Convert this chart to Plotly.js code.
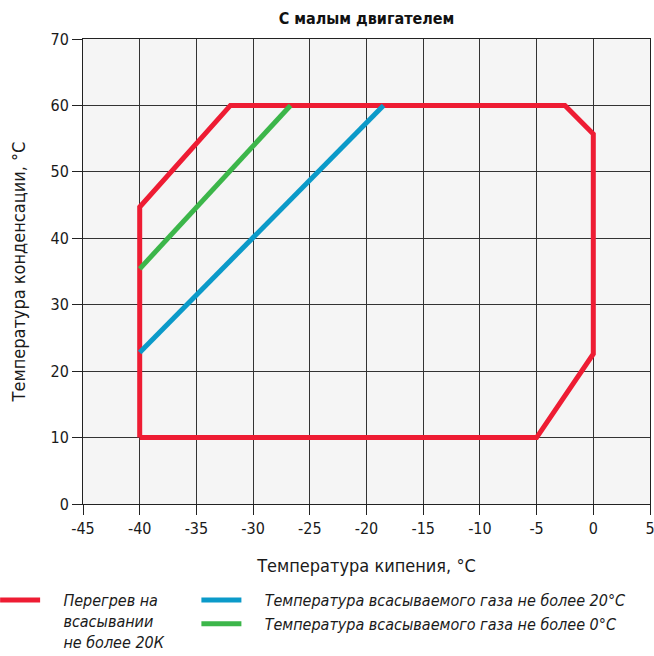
<!DOCTYPE html>
<html><head><meta charset="utf-8">
<script src="https://cdn.plot.ly/plotly-3.0.1.min.js"></script>
<style>body{margin:0;background:#fff}#c{width:654px;height:656px}</style>
</head><body><div id="c"></div>
<script>
const redX = [-40, -40, -32, -2.5, 0, 0, -5, -40];
const redY = [10, 44.7, 60, 60, 55.7, 22.6, 10, 10];
const blueX = [-40, -18.5];
const blueY = [22.8, 60];
const greenX = [-40, -26.7];
const greenY = [35.4, 60];
const xTicks = [-45, -40, -35, -30, -25, -20, -15, -10, -5, 0, 5];
const yTicks = [0, 10, 20, 30, 40, 50, 60, 70];
const PAD = '\u00a0\u00a0\u00a0\u00a0';
const names = [PAD + 'Перегрев на<br>' + PAD + 'всасывании<br>' + PAD + 'не более 20К',
  PAD + 'Температура всасываемого газа не более 20°С',
  PAD + 'Температура всасываемого газа не более 0°С'];
const FONT = '"Liberation Sans Narrow", "DejaVu Sans Condensed", "Open Sans", sans-serif';

const traces = [
  {x: redX, y: redY, mode: 'lines', name: names[0], line: {color: '#ee1c33', width: 5}, legend: 'legend'},
  {x: blueX, y: blueY, mode: 'lines', name: names[1], line: {color: '#0b9ac9', width: 5}, legend: 'legend2'},
  {x: greenX, y: greenY, mode: 'lines', name: names[2], line: {color: '#3cb64a', width: 5}, legend: 'legend2'}
];

const layout = {
  width: 654, height: 656,
  margin: {l: 83, r: 4, t: 39, b: 152, autoexpand: false},
  paper_bgcolor: '#ffffff',
  plot_bgcolor: '#f5f5f5',
  font: {family: FONT, size: 16, color: '#1a1a1a'},
  title: {text: '<b>С малым двигателем</b>', xref: 'paper', x: 0.5, xanchor: 'center', y: 0.972, yanchor: 'middle',
    font: {family: FONT, size: 16, color: '#111'}},
  xaxis: {range: [-45, 5], tickvals: xTicks, ticktext: xTicks.map(String),
    automargin: false, ticklabeloverflow: 'allow',
    showgrid: true, gridcolor: '#333', gridwidth: 1, zeroline: false,
    showline: true, linecolor: '#222', linewidth: 1, mirror: true,
    ticks: 'outside', ticklen: 10, tickcolor: '#222',
    tickfont: {size: 16, family: FONT, color: '#1a1a1a'},
    title: {text: 'Температура кипения, °С', font: {size: 18, family: FONT, color: '#1a1a1a'}, standoff: 22}},
  yaxis: {range: [0, 70], tickvals: yTicks, ticktext: yTicks.map(String),
    automargin: false, ticklabeloverflow: 'allow',
    showgrid: true, gridcolor: '#333', gridwidth: 1, zeroline: false,
    showline: true, linecolor: '#222', linewidth: 1, mirror: true,
    ticks: 'outside', ticklen: 10, tickcolor: '#222',
    tickfont: {size: 16, family: FONT, color: '#1a1a1a'},
    title: {text: 'Температура конденсации, °С', font: {size: 18, family: FONT, color: '#1a1a1a'}, standoff: 20}},
  showlegend: true,
  legend: {x: -0.155, xanchor: 'left', y: -0.17, yanchor: 'top', orientation: 'v',
    bgcolor: 'rgba(0,0,0,0)', valign: 'top', itemwidth: 40,
    font: {family: FONT, size: 16, style: 'italic', color: '#1a1a1a'}},
  legend2: {x: 0.2, xanchor: 'left', y: -0.17, yanchor: 'top', orientation: 'v',
    bgcolor: 'rgba(0,0,0,0)', tracegroupgap: 0, itemwidth: 40,
    font: {family: FONT, size: 16, style: 'italic', color: '#1a1a1a'}}
};
Plotly.newPlot('c', traces, layout, {displayModeBar: false, staticPlot: true});
</script></body></html>
